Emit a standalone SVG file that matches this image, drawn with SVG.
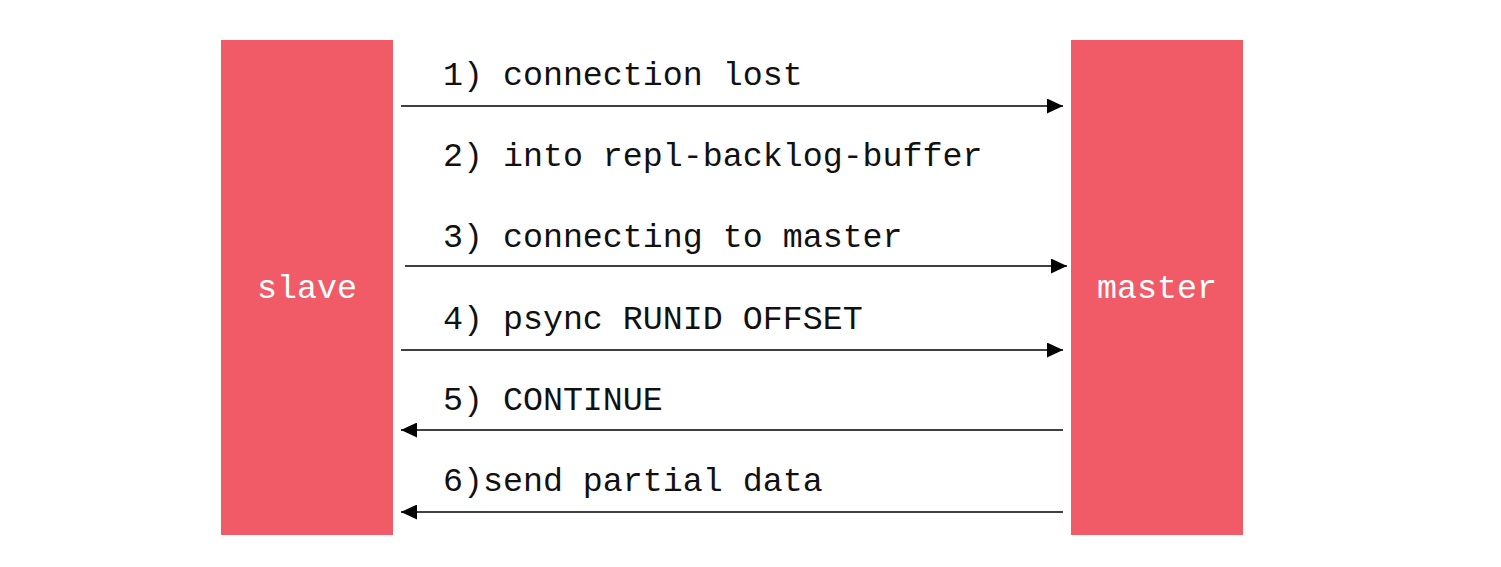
<svg xmlns="http://www.w3.org/2000/svg" width="1501" height="567" viewBox="0 0 1501 567">
<style>
.node{fill:#F15B67}
.lbl{font-family:"Liberation Mono","Courier New",monospace;font-size:33.3px;fill:#111}
.nlbl{font-family:"Liberation Mono","Courier New",monospace;font-size:33.3px;fill:#fff;text-anchor:middle}
.conn{stroke:#000;stroke-width:1.3;fill:none}
</style>
<defs>
<marker id="ah" viewBox="0 0 16 15" refX="16" refY="7.5" markerWidth="16" markerHeight="15" markerUnits="userSpaceOnUse" orient="auto">
<path d="M0,0 L16,7.5 L0,15 Z" fill="#000"/>
</marker>
</defs>
<rect width="1501" height="567" fill="#fff"/>
<g id="slave">
<rect class="node" x="221" y="40" width="172" height="495"/>
<text class="nlbl" x="307" y="298">slave</text>
</g>
<g id="master">
<rect class="node" x="1071" y="40" width="172" height="495"/>
<text class="nlbl" x="1157" y="298">master</text>
</g>
<g id="connectors">
<line class="conn" x1="401" y1="106" x2="1063" y2="106" marker-end="url(#ah)"/>
<line class="conn" x1="405" y1="266" x2="1067" y2="266" marker-end="url(#ah)"/>
<line class="conn" x1="401" y1="350" x2="1063" y2="350" marker-end="url(#ah)"/>
<line class="conn" x1="1063" y1="430" x2="401" y2="430" marker-end="url(#ah)"/>
<line class="conn" x1="1063" y1="512" x2="401" y2="512" marker-end="url(#ah)"/>
</g>
<g id="labels">
<text class="lbl" x="443" y="85" xml:space="preserve">1) connection lost</text>
<text class="lbl" x="443" y="166" xml:space="preserve">2) into repl-backlog-buffer</text>
<text class="lbl" x="443" y="247" xml:space="preserve">3) connecting to master</text>
<text class="lbl" x="443" y="329" xml:space="preserve">4) psync RUNID OFFSET</text>
<text class="lbl" x="443" y="410" xml:space="preserve">5) CONTINUE</text>
<text class="lbl" x="443" y="491" xml:space="preserve">6)send partial data</text>
</g>
</svg>
